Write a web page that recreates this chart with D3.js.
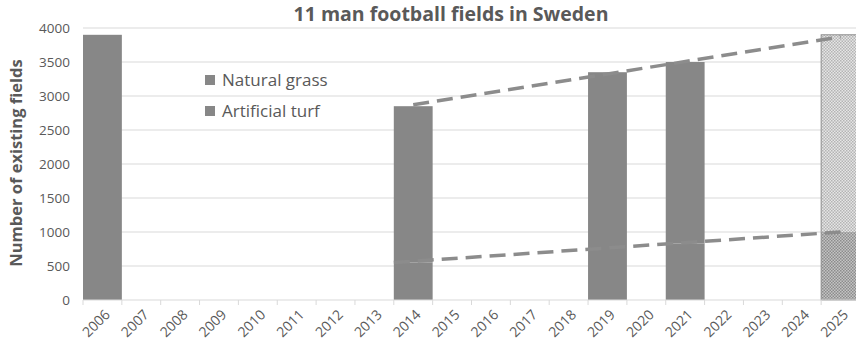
<!DOCTYPE html>
<html><head><meta charset="utf-8">
<script src="https://cdn.jsdelivr.net/npm/d3@7"></script>
<style>body{margin:0;background:#fff}svg{display:block}text{font-family:"Open Sans",sans-serif}</style>
</head><body><svg id="c" width="856" height="344"></svg>
<script>
const years = ["2006","2007","2008","2009","2010","2011","2012","2013","2014","2015","2016","2017","2018","2019","2020","2021","2022","2023","2024","2025"];
const artificialTurf = [0,null,null,null,null,null,null,null,550,null,null,null,null,750,null,830,null,null,null,1000];
const naturalGrass   = [3900,null,null,null,null,null,null,null,2300,null,null,null,null,2600,null,2670,null,null,null,2900];
const projectedYears = ["2025"];
const trendTotalYears = ["2014","2025"];
const trendTotal = [2870, 3870];
const trendTurfYears = ["2014","2025"];
const trendTurf = [550, 1000];
const yTicks = [0,500,1000,1500,2000,2500,3000,3500,4000];
const legendLabels = ["Natural grass","Artificial turf"];

const svg = d3.select("#c");
const x = d3.scaleBand().domain(years).range([83, 860]).padding(0);
const y = d3.scaleLinear().domain([0,4000]).range([300, 28]);
const bw = x.bandwidth();
const txt = "#595959";

const defs = svg.append("defs");
function checker(id, c1, c2){
  const p = defs.append("pattern").attr("id",id).attr("patternUnits","userSpaceOnUse").attr("width",3).attr("height",3);
  p.append("rect").attr("width",3).attr("height",3).attr("fill",c2);
  p.append("rect").attr("width",1.5).attr("height",1.5).attr("fill",c1);
  p.append("rect").attr("x",1.5).attr("y",1.5).attr("width",1.5).attr("height",1.5).attr("fill",c1);
}
checker("pLight","#b4b4b4","#e6e6e6");
checker("pDark","#8c8c8c","#c4c4c4");

// gridlines
svg.append("g").selectAll("line").data(yTicks.slice(1)).join("line")
  .attr("x1",83).attr("x2",856).attr("y1",d=>y(d)).attr("y2",d=>y(d))
  .attr("stroke","#d9d9d9").attr("stroke-width",1);

// y axis labels
const yAxis = svg.append("g").attr("transform","translate(83,0)")
  .call(d3.axisLeft(y).tickValues(yTicks).tickFormat(d3.format("d")).tickSize(0).tickPadding(13));
yAxis.select(".domain").remove();
yAxis.selectAll("text").attr("fill",txt).style("font-size","13.5px");

// bars
const rows = years.map((yr,i)=>({yr, turf: artificialTurf[i], nat: naturalGrass[i]})).filter(d=>d.nat!=null);
const g = svg.append("g");
rows.forEach(d=>{
  const proj = projectedYears.includes(d.yr);
  const t = d.turf||0;
  g.append("rect").attr("x",x(d.yr)).attr("width",bw)
    .attr("y",y(t)).attr("height",y(0)-y(t))
    .attr("fill", proj? "url(#pDark)" : "#878787");
  g.append("rect").attr("x",x(d.yr)).attr("width",bw)
    .attr("y",y(t+d.nat)).attr("height",y(t)-y(t+d.nat))
    .attr("fill", proj? "url(#pLight)" : "#878787");
  if(proj){
    g.append("rect").attr("x",x(d.yr)).attr("width",bw)
      .attr("y",y(t+d.nat)).attr("height",y(0)-y(t+d.nat))
      .attr("fill","none").attr("stroke","#8c8c8c").attr("stroke-width",1);
  }
});

// x axis
svg.append("line").attr("x1",83).attr("x2",856).attr("y1",y(0)).attr("y2",y(0)).attr("stroke","#d9d9d9");
svg.append("g").selectAll("line").data(years.concat(["end"])).join("line")
  .attr("x1",(d,i)=>83+i*bw).attr("x2",(d,i)=>83+i*bw)
  .attr("y1",y(0)).attr("y2",y(0)+5).attr("stroke","#d9d9d9");
svg.append("g").selectAll("text").data(years).join("text")
  .attr("transform",d=>`translate(${x(d)+bw/2+5},${y(0)+12}) rotate(-45)`)
  .attr("text-anchor","end").attr("dy","0.35em")
  .attr("fill",txt).style("font-size","14px").text(d=>d);

// trend lines
const dash = "16,8";
svg.append("line")
  .attr("x1",x(trendTotalYears[0])+bw/2).attr("y1",y(trendTotal[0]))
  .attr("x2",x(trendTotalYears[1])+bw/2).attr("y2",y(trendTotal[1]))
  .attr("stroke","#8c8c8c").attr("stroke-width",3.5).attr("stroke-dasharray",dash);
svg.append("line")
  .attr("x1",x(trendTurfYears[0])).attr("y1",y(trendTurf[0]))
  .attr("x2",x(trendTurfYears[1])+bw/2).attr("y2",y(trendTurf[1]))
  .attr("stroke","#8c8c8c").attr("stroke-width",3.5).attr("stroke-dasharray",dash);

// legend
const lg = svg.append("g");
legendLabels.forEach((l,i)=>{
  lg.append("rect").attr("x",205).attr("y",75+i*31).attr("width",10).attr("height",10).attr("fill","#878787");
  lg.append("text").attr("x",222).attr("y",86+i*31).attr("fill",txt).style("font-size","17px").text(l);
});

// title
svg.append("text").attr("x",451).attr("y",21).attr("text-anchor","middle")
  .attr("fill",txt).style("font-size","19.5px").style("font-weight","bold").text("11 man football fields in Sweden");
// y label
svg.append("text").attr("transform","translate(22,163) rotate(-90)").attr("text-anchor","middle")
  .attr("fill",txt).style("font-size","16.5px").style("font-weight","bold").text("Number of existing fields");
</script></body></html>
